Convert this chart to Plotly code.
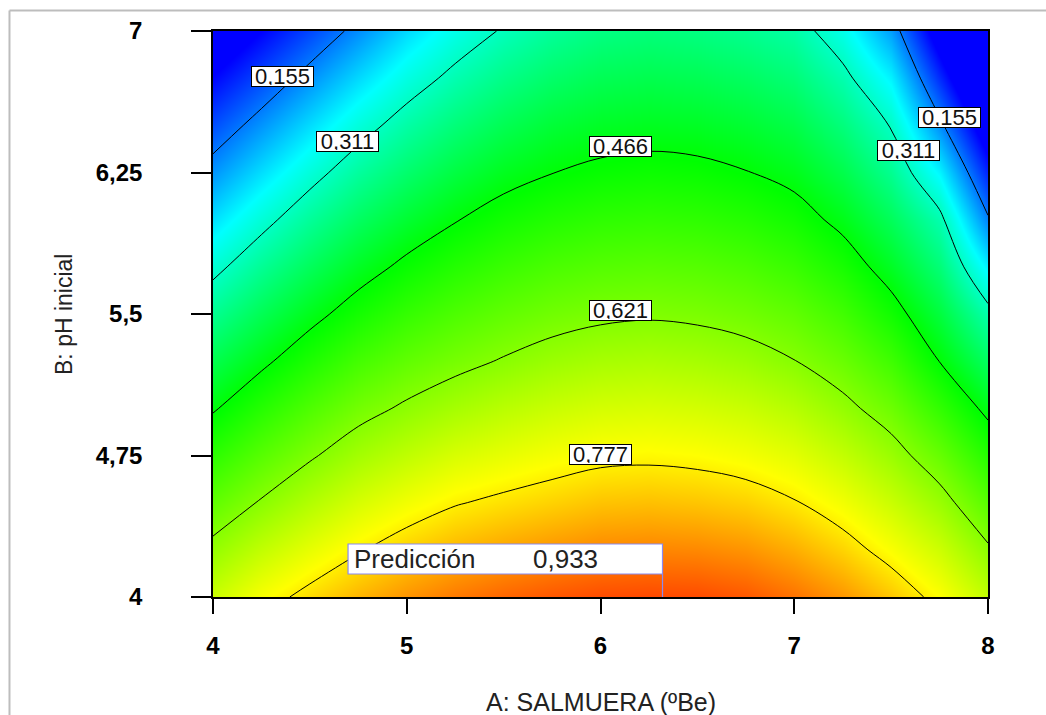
import plotly.graph_objects as go

# ---- data ----
salmuera = [4.0, 4.25, 4.5, 4.75, 5.0, 5.25, 5.5, 5.75, 6.0, 6.25, 6.5, 6.75, 7.0, 7.25, 7.5, 7.75, 8.0]
ph_inicial = [4.0, 4.25, 4.5, 4.75, 5.0, 5.25, 5.5, 5.75, 6.0, 6.25, 6.5, 6.75, 7.0]

z_b400 = [0.700, 0.753, 0.794, 0.830, 0.861, 0.886, 0.905, 0.919, 0.929, 0.932, 0.930, 0.918, 0.893, 0.859, 0.814, 0.759, 0.689]
z_b425 = [0.639, 0.690, 0.733, 0.772, 0.805, 0.829, 0.846, 0.860, 0.872, 0.875, 0.872, 0.861, 0.837, 0.801, 0.755, 0.703, 0.630]
z_b450 = [0.579, 0.627, 0.673, 0.714, 0.746, 0.773, 0.789, 0.803, 0.817, 0.820, 0.815, 0.804, 0.781, 0.746, 0.700, 0.645, 0.570]
z_b475 = [0.520, 0.569, 0.614, 0.656, 0.688, 0.716, 0.734, 0.750, 0.763, 0.766, 0.761, 0.749, 0.729, 0.692, 0.646, 0.586, 0.511]
z_b500 = [0.460, 0.511, 0.558, 0.600, 0.631, 0.658, 0.680, 0.698, 0.711, 0.715, 0.710, 0.698, 0.676, 0.638, 0.593, 0.525, 0.451]
z_b525 = [0.406, 0.454, 0.502, 0.546, 0.579, 0.604, 0.626, 0.646, 0.660, 0.665, 0.659, 0.646, 0.623, 0.589, 0.541, 0.465, 0.390]
z_b550 = [0.351, 0.401, 0.448, 0.492, 0.529, 0.557, 0.580, 0.598, 0.610, 0.615, 0.610, 0.598, 0.579, 0.543, 0.489, 0.419, 0.328]
z_b575 = [0.295, 0.348, 0.396, 0.441, 0.479, 0.510, 0.535, 0.554, 0.566, 0.571, 0.567, 0.555, 0.534, 0.496, 0.441, 0.372, 0.249]
z_b600 = [0.236, 0.293, 0.345, 0.391, 0.430, 0.463, 0.490, 0.509, 0.522, 0.527, 0.523, 0.511, 0.490, 0.451, 0.397, 0.326, 0.162]
z_b625 = [0.178, 0.235, 0.291, 0.341, 0.382, 0.417, 0.446, 0.465, 0.478, 0.484, 0.480, 0.468, 0.449, 0.409, 0.352, 0.253, 0.086]
z_b650 = [0.120, 0.176, 0.233, 0.288, 0.334, 0.371, 0.402, 0.425, 0.439, 0.444, 0.440, 0.429, 0.411, 0.368, 0.307, 0.169, 0.011]
z_b675 = [0.062, 0.117, 0.174, 0.230, 0.283, 0.325, 0.359, 0.384, 0.401, 0.406, 0.402, 0.391, 0.373, 0.326, 0.251, 0.092, -0.060]
z_b700 = [0.004, 0.059, 0.115, 0.171, 0.231, 0.278, 0.316, 0.344, 0.363, 0.369, 0.364, 0.352, 0.335, 0.277, 0.185, 0.020, -0.130]

contour_levels = [0.155, 0.311, 0.466, 0.621, 0.777]
prediction_value = 0.933
prediction_point = (6.32, 4.0)

x_tickvals = [4, 5, 6, 7, 8]
x_ticktext = ["4", "5", "6", "7", "8"]
y_tickvals = [4, 4.75, 5.5, 6.25, 7]
y_ticktext = ["4", "4,75", "5,5", "6,25", "7"]

# label placement (data coords) for contour values: (level index, A, B)
label_places = [(0, 4.361, 6.761), (1, 4.694, 6.412), (2, 6.101, 6.390), (3, 6.101, 5.521),
                (4, 6.000, 4.753), (0, 7.799, 6.544), (1, 7.592, 6.369)]

z = [z_b400, z_b425, z_b450, z_b475, z_b500, z_b525, z_b550,
     z_b575, z_b600, z_b625, z_b650, z_b675, z_b700]

zmin, zmax = 0.06, 1.0
colorscale = [[0.0, "rgb(0,0,255)"], [0.2128, "rgb(0,255,255)"], [0.4362, "rgb(0,255,0)"],
              [0.7447, "rgb(255,255,0)"], [1.0, "rgb(255,0,0)"]]

fig = go.Figure()
fig.add_trace(go.Contour(
    x=salmuera, y=ph_inicial, z=z,
    colorscale=colorscale, zmin=zmin, zmax=zmax, zauto=False,
    showscale=False, hoverinfo="skip",
    contours=dict(coloring="heatmap", start=contour_levels[0], end=contour_levels[-1] + 0.001,
                  size=(contour_levels[-1] - contour_levels[0]) / (len(contour_levels) - 1),
                  showlabels=False),
    line=dict(color="black", width=1, smoothing=1.0),
))

def fmt(v):
    return f"{v:.3f}".replace(".", ",")

annotations = []
for idx, ax_, by_ in label_places:
    annotations.append(dict(x=ax_, y=by_, xref="x", yref="y", text=fmt(contour_levels[idx]),
                            showarrow=False, bgcolor="white", bordercolor="black", borderwidth=1,
                            borderpad=1, width=59, height=17,
                            font=dict(family="Liberation Sans, Arial", size=22, color="#111")))

# prediction box
px, py = prediction_point
box_left, box_bottom, box_top = 4.697, 4.122, 4.281
shapes = [
    dict(type="rect", xref="x", yref="y", x0=box_left, x1=px, y0=box_bottom, y1=box_top,
         line=dict(color="#8a8af0", width=1.2), fillcolor="white", layer="above"),
    dict(type="line", xref="x", yref="y", x0=px, x1=px, y0=py, y1=box_bottom,
         line=dict(color="#8a8af0", width=1.2), layer="above"),
    # outer frame (left and top)
    dict(type="line", xref="paper", yref="paper", x0=-0.2626, x1=-0.2626, y0=-0.25, y1=1.0362,
         line=dict(color="#bdbdbd", width=2)),
    dict(type="line", xref="paper", yref="paper", x0=-0.2626, x1=1.08, y0=1.0362, y1=1.0362,
         line=dict(color="#bdbdbd", width=2)),
]
annotations.append(dict(x=box_left, y=(box_bottom + box_top) / 2, xref="x", yref="y",
                        text="Predicción", showarrow=False, xanchor="left", xshift=4,
                        font=dict(family="Liberation Sans, Arial", size=26, color="#222")))
annotations.append(dict(x=5.64, y=(box_bottom + box_top) / 2, xref="x", yref="y",
                        text=fmt(prediction_value), showarrow=False, xanchor="left",
                        font=dict(family="Liberation Sans, Arial", size=26, color="#222")))
# axis titles
annotations.append(dict(x=0.5, y=-0.1855, xref="paper", yref="paper", text="A: SALMUERA (ºBe)",
                        showarrow=False, xanchor="center", yanchor="middle",
                        font=dict(family="Liberation Sans, Arial", size=25, color="#222")))
annotations.append(dict(x=-0.1923, y=0.5, xref="paper", yref="paper", text="B: pH inicial",
                        showarrow=False, xanchor="center", yanchor="middle", textangle=-90,
                        font=dict(family="Liberation Sans, Arial", size=23, color="#222")))

tickfont = dict(family="Liberation Sans, Arial", size=24, color="black", weight="bold")
fig.update_layout(
    width=1046, height=715,
    margin=dict(l=213, r=58, t=31, b=118),
    paper_bgcolor="white", plot_bgcolor="white",
    showlegend=False,
    shapes=shapes, annotations=annotations,
    xaxis=dict(range=[4, 8], tickvals=x_tickvals, ticktext=x_ticktext, ticks="outside",
               ticklen=15, tickwidth=1.5, tickcolor="black", showline=True, linecolor="black",
               linewidth=1.5, mirror=True, showgrid=False, zeroline=False, tickfont=tickfont,
               ticklabelstandoff=11),
    yaxis=dict(range=[4, 7], tickvals=y_tickvals, ticktext=y_ticktext, ticks="outside",
               ticklen=20, tickwidth=1.5, tickcolor="black", showline=True, linecolor="black",
               linewidth=1.5, mirror=True, showgrid=False, zeroline=False, tickfont=tickfont,
               ticklabelstandoff=44),
)

fig.write_html("out.html", config={"displayModeBar": False})
